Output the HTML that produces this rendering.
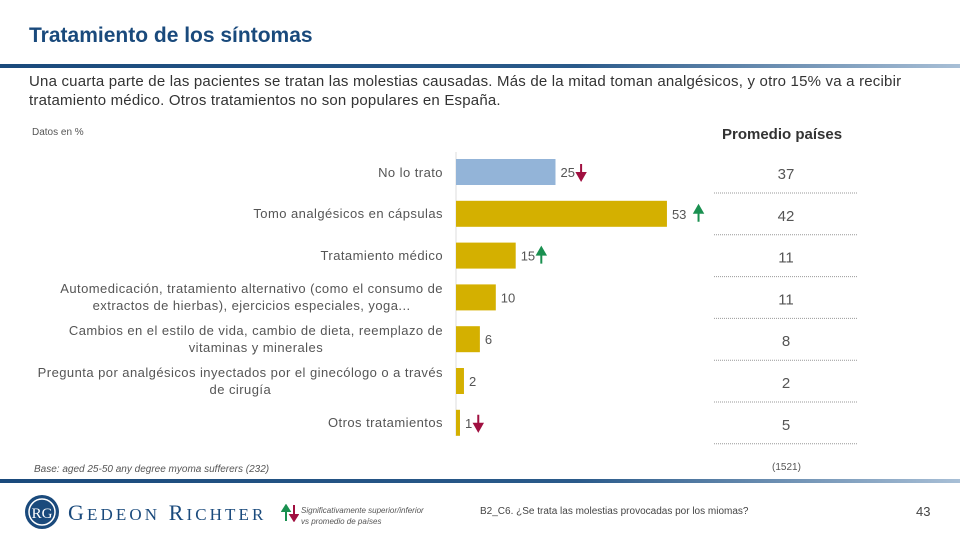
<!DOCTYPE html>
<html><head><meta charset="utf-8"><style>
body{margin:0;width:960px;height:540px;background:#fff;font-family:"Liberation Sans",sans-serif;position:relative;overflow:hidden}
.a{position:absolute}
.lbl{position:absolute;right:517px;text-align:right;font-size:13px;color:#555;line-height:17px;width:440px;letter-spacing:0.45px}
.lbl span{display:inline-block;text-align:center}
</style></head><body>
<div class="a" style="left:29px;top:24px;font-size:21px;font-weight:bold;color:#1a4a7c">Tratamiento de los síntomas</div>
<div class="a" style="left:0;top:64px;width:960px;height:4px;background:linear-gradient(90deg,#1a4a7c 0%,#2a5a8a 60%,#a8bfd6 100%)"></div>
<div class="a" style="left:29px;top:72px;width:925px;font-size:15px;color:#333;line-height:19px;letter-spacing:0.2px">Una cuarta parte de las pacientes se tratan las molestias causadas. Más de la mitad toman analgésicos, y otro 15% va a recibir tratamiento médico. Otros tratamientos no son populares en España.</div>
<div class="a" style="left:32px;top:127px;font-size:10px;color:#555">Datos en %</div>
<div class="a" style="left:722px;top:126px;font-size:15px;font-weight:bold;color:#333">Promedio países</div>
<svg class="a" style="left:0;top:0" width="960" height="540" id="chart"></svg>
<div id="labels"></div>
<div class="a" style="left:34px;top:464px;font-size:10px;font-style:italic;color:#555">Base: aged 25-50 any degree myoma sufferers (232)</div>
<div class="a" style="left:772px;top:462px;font-size:10px;color:#555">(1521)</div>
<div class="a" style="left:0;top:479px;width:960px;height:4px;background:linear-gradient(90deg,#1a4a7c 0%,#2a5a8a 60%,#a8bfd6 100%)"></div>
<svg class="a" style="left:24px;top:494px" width="36" height="36"><circle cx="18" cy="18" r="17" fill="#1a4a7c"/><circle cx="18" cy="18" r="13" fill="none" stroke="#fff" stroke-width="1.5"/><text x="18" y="24" text-anchor="middle" font-size="15" fill="#fff" font-family="Liberation Serif">RG</text></svg>
<div class="a" style="left:68px;top:500px;font-family:'Liberation Serif',serif;font-size:22px;color:#1a4a7c;letter-spacing:3.1px">G<span style="font-size:17px">EDEON</span> R<span style="font-size:17px">ICHTER</span></div>
<svg class="a" style="left:281px;top:504px" width="18" height="18"><path d="M5 17V6M1.5 7L5 1.5 8.5 7Z" stroke="#1a9050" fill="#1a9050" stroke-width="2"/><path d="M13 1V12M9.5 11L13 16.5 16.5 11Z" stroke="#a01040" fill="#a01040" stroke-width="2"/></svg>
<div class="a" style="left:301px;top:505px;font-size:8px;font-style:italic;color:#555;line-height:11px">Significativamente superior/inferior<br>vs promedio de países</div>
<div class="a" style="left:480px;top:506px;font-size:10px;color:#444">B2_C6. ¿Se trata las molestias provocadas por los miomas?</div>
<div class="a" style="left:916px;top:504px;font-size:13px;color:#444">43</div>
<script>
const categories=["No lo trato","Tomo analgésicos en cápsulas","Tratamiento médico","Automedicación,  tratamiento alternativo (como el consumo de|extractos de hierbas), ejercicios especiales, yoga...","Cambios en el estilo de vida, cambio de dieta, reemplazo de|vitaminas y minerales","Pregunta por analgésicos inyectados por el ginecólogo o a través|de cirugía","Otros tratamientos"];
const values=[25,53,15,10,6,2,1];
const averages=[37,42,11,11,8,2,5];
const signif=[-1,1,1,0,0,0,-1];
const NS="http://www.w3.org/2000/svg";
const svg=document.getElementById('chart');
const x0=456,pxPer=3.98,y0=172,step=41.8,bh=26;
const xs=v=>x0+v*pxPer, ys=i=>y0+i*step;
function mk(t,a){const e=document.createElementNS(NS,t);for(const k in a)e.setAttribute(k,a[k]);svg.appendChild(e);return e;}
const ax=mk('line',{x1:x0,x2:x0,y1:152,y2:436,stroke:'#ddd','stroke-width':1});


const labels=document.getElementById('labels');
categories.forEach((c,i)=>{
  const y=ys(i);
  const r=mk('rect',{x:x0,y:y-bh/2,width:xs(values[i])-x0,height:bh,fill:i===0?'#93b4d8':'#d4b000'});
  
  
  const t=mk('text',{x:xs(values[i])+5,y:y+5,'font-size':13,fill:'#555','font-family':'Liberation Sans'});
  t.textContent=values[i];
  
  
  const tw=String(values[i]).length*7.3;
  if(signif[i]!==0){
    const ax_=xs(values[i])+5+tw+6+(values[i]>=50?6:0);
    const col=signif[i]>0?'#1a9050':'#a01040';
    const d=signif[i]>0?`M${ax_} ${y+8}V${y-2}M${ax_-4} ${y-1}L${ax_} ${y-8}L${ax_+4} ${y-1}Z`:`M${ax_} ${y-8}V${y+2}M${ax_-4} ${y+1}L${ax_} ${y+8}L${ax_+4} ${y+1}Z`;
    const p=mk('path',{d:d,stroke:col,fill:col,'stroke-width':2});
    
    
  }
  const a=mk('text',{x:786,y:y+7,'text-anchor':'middle','font-size':15,fill:'#555','font-family':'Liberation Sans'});
  a.textContent=averages[i];
  
  
  const l=mk('line',{x1:714,x2:857,y1:y+21,y2:y+21,stroke:'#999','stroke-width':1,'stroke-dasharray':'1,1'});
  
  
  const d=document.createElement('div');
  const parts=c.split('|');
  d.className='lbl';
  const s=document.createElement('span');
  parts.forEach((p,k)=>{if(k)s.appendChild(document.createElement('br'));s.appendChild(document.createTextNode(p));});
  d.appendChild(s);
  d.style.top=(y-parts.length*8.5)+'px';
  
  
  labels.appendChild(d);
});
</script>
</body></html>
